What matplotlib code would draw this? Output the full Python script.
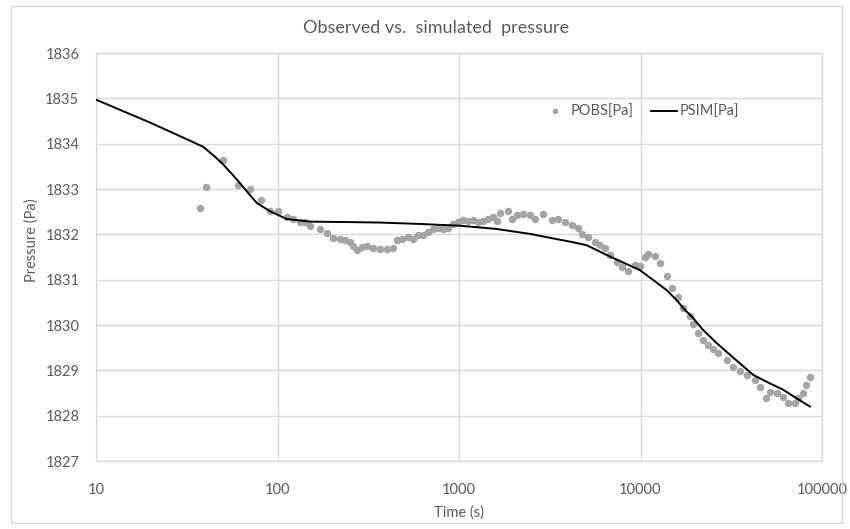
import matplotlib
matplotlib.use("Agg")
import matplotlib.pyplot as plt
from matplotlib.patches import Rectangle

plt.rcParams['font.family'] = ['Lato', 'DejaVu Sans']

# observed pressure (POBS)
t_obs = [37.4, 40.2, 50.3, 60.4, 70.6, 81.1, 90.9, 100.3, 112.4, 122.2,
         133, 141.8, 151, 171.5, 186.7, 203, 221, 235.4, 250.8, 261.6,
         273.2, 291, 310, 337, 367, 400, 435, 454, 483, 526,
         560, 597, 636, 677, 722, 769, 819, 873, 930, 991,
         1056, 1125, 1199, 1277, 1361, 1450, 1545, 1613, 1682, 1869,
         1952, 2080, 2261, 2462, 2623, 2914, 3242, 3525, 3837, 4177,
         4543, 4743, 5158, 5615, 5983, 6374, 6792, 7394, 7878, 8566,
         9327, 9937, 10590, 11040, 12020, 12810, 13950, 14860, 16160, 17210,
         18740, 19540, 20830, 22180, 23640, 25180, 26840, 29850, 32460, 35340,
         38470, 42750, 45540, 49150, 51700, 56290, 61210, 65220, 71000, 74050,
         78270, 81630, 85890]
p_obs = [1832.59, 1833.05, 1833.64, 1833.09, 1832.99, 1832.76, 1832.52, 1832.51, 1832.39, 1832.33,
         1832.28, 1832.27, 1832.19, 1832.11, 1832.04, 1831.93, 1831.89, 1831.87, 1831.82, 1831.74,
         1831.65, 1831.71, 1831.74, 1831.70, 1831.67, 1831.68, 1831.70, 1831.87, 1831.90, 1831.95,
         1831.90, 1831.98, 1831.99, 1832.06, 1832.11, 1832.13, 1832.11, 1832.13, 1832.22, 1832.28,
         1832.32, 1832.30, 1832.32, 1832.28, 1832.30, 1832.33, 1832.39, 1832.30, 1832.46, 1832.52,
         1832.33, 1832.43, 1832.45, 1832.43, 1832.33, 1832.44, 1832.32, 1832.33, 1832.28, 1832.21,
         1832.15, 1832.01, 1831.95, 1831.84, 1831.76, 1831.69, 1831.54, 1831.40, 1831.29, 1831.19,
         1831.32, 1831.30, 1831.51, 1831.57, 1831.52, 1831.36, 1831.08, 1830.81, 1830.61, 1830.37,
         1830.19, 1830.02, 1829.83, 1829.67, 1829.56, 1829.46, 1829.39, 1829.23, 1829.08, 1828.99,
         1828.90, 1828.79, 1828.64, 1828.38, 1828.53, 1828.49, 1828.42, 1828.27, 1828.29, 1828.38,
         1828.49, 1828.68, 1828.86]

# simulated pressure (PSIM)
t_sim = [10, 20, 30, 39, 45, 50, 60, 70, 77, 91, 112, 151, 250, 367, 600, 1013, 1600,
         2460, 3500, 4200, 5050, 6790, 8000, 9930, 11500, 13930, 15800, 17500, 19540,
         22000, 26300, 32000, 41800, 50000, 61200, 72000, 85900]
p_sim = [1834.97, 1834.46, 1834.14, 1833.93, 1833.72, 1833.55, 1833.20, 1832.88, 1832.69,
         1832.51, 1832.34, 1832.28, 1832.27, 1832.26, 1832.23, 1832.19, 1832.12,
         1832.01, 1831.89, 1831.83, 1831.76, 1831.51, 1831.38, 1831.21, 1831.02,
         1830.77, 1830.55, 1830.34, 1830.15, 1829.90, 1829.60, 1829.30, 1828.90,
         1828.74, 1828.57, 1828.39, 1828.20]

txt = '#595959'
grid = '#D9D9D9'

fig = plt.figure(figsize=(8.5, 5.29), dpi=100)
ax = fig.add_axes([96 / 850, 68 / 529, 726 / 850, 408 / 529])

ax.plot(t_obs, p_obs, 'o', color='#A5A5A5', markersize=5.4, markeredgewidth=0,
        label='POBS[Pa]', zorder=3)
ax.plot(t_sim, p_sim, '-', color='black', linewidth=1.4, label='PSIM[Pa]', zorder=4)

ax.set_xscale('log')
ax.set_xlim(10, 100000)
ax.set_ylim(1827, 1836)
ax.set_xticks([10, 100, 1000, 10000, 100000])
ax.set_xticklabels(['10', '100', '1000', '10000', '100000'])
ax.minorticks_off()
ax.set_yticks(range(1827, 1837))

ax.grid(True, color=grid, linewidth=1)
ax.set_axisbelow(True)
for s in ax.spines.values():
    s.set_color(grid)
    s.set_linewidth(1)
ax.tick_params(length=0, colors=txt, labelsize=10.5)
ax.tick_params(axis='y', pad=12)
ax.tick_params(axis='x', pad=16)

fig.text(436 / 850, 1 - 28 / 529, 'Observed vs.  simulated  pressure',
         ha='center', va='center', fontsize=13, color=txt)
fig.text(459 / 850, 1 - 513 / 529, 'Time (s)', ha='center', va='center',
         fontsize=10.5, color=txt)
fig.text(32 / 850, 1 - 240 / 529, 'Pressure (Pa)', ha='center', va='center',
         rotation=90, fontsize=10.5, color=txt)

ax.legend(loc='center left', bbox_to_anchor=((542 - 96) / 726, (461 - 111.7) / 408),
          ncol=2, frameon=False, borderpad=0, borderaxespad=0, handlelength=1.8,
          handletextpad=0.15, columnspacing=1.2, markerscale=0.75,
          fontsize=10.5, labelcolor=txt)

fig.patches.append(Rectangle((11 / 850, 1 - 523 / 529), 831 / 850, 517 / 529,
                             transform=fig.transFigure, fill=False,
                             edgecolor=grid, linewidth=1))

fig.savefig('out.png', dpi=100)
